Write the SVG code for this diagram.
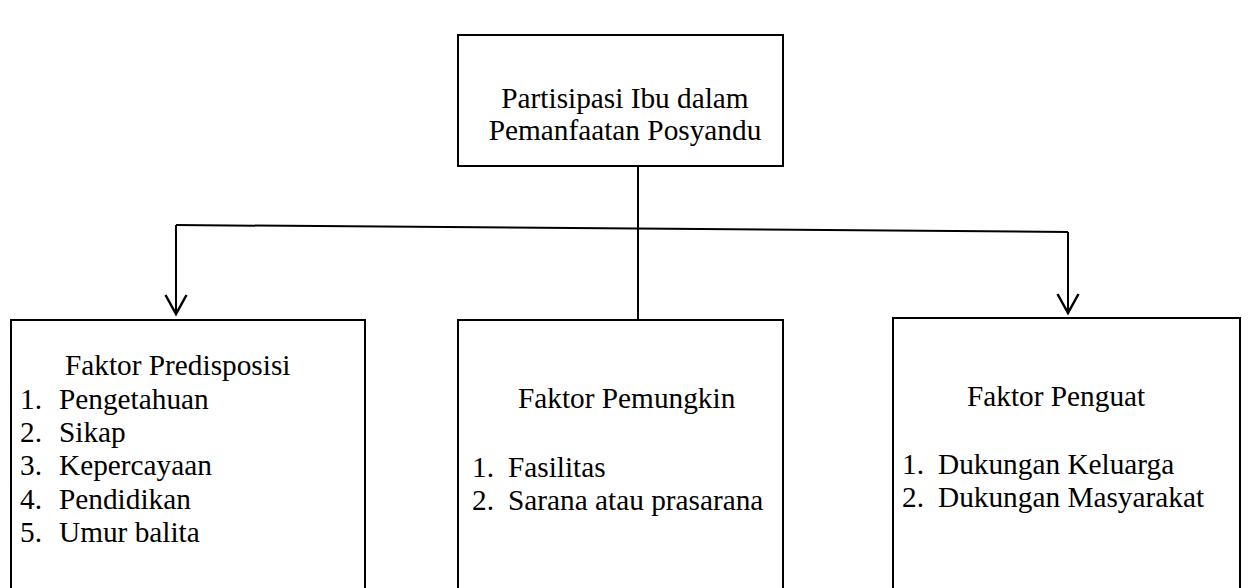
<svg xmlns="http://www.w3.org/2000/svg" width="1250" height="588" viewBox="0 0 1250 588">
<style>
.box{fill:#fff;stroke:#000;stroke-width:2}
.ln{fill:none;stroke:#000;stroke-width:2}
text{font-family:"Liberation Serif","Times New Roman",serif;font-size:29.3px;fill:#000}
.c{text-anchor:middle}
</style>
<defs>
<marker id="arr" markerUnits="userSpaceOnUse" markerWidth="30" markerHeight="30" refX="0" refY="0" orient="auto" overflow="visible">
<path d="M-19,-10.5 L0,0 L-19,10.5" fill="none" stroke="#000" stroke-width="2.5"/>
</marker>
</defs>
<rect width="1250" height="588" fill="#fff"/>
<g id="connectors">
<path class="ln" d="M638,166 L638,320"/>
<path class="ln" d="M176,225 L1068,232"/>
<path class="ln" d="M176,225 L176,314" marker-end="url(#arr)"/>
<path class="ln" d="M1068,232 L1068,313" marker-end="url(#arr)"/>
</g>
<g id="top">
<rect class="box" x="458" y="35" width="325" height="131"/>
<text class="c" x="625" y="108">Partisipasi Ibu dalam</text>
<text class="c" x="625" y="140">Pemanfaatan Posyandu</text>
</g>
<g id="predisposisi">
<rect class="box" x="11" y="320" width="354" height="290"/>
<text x="65" y="375">Faktor Predisposisi</text>
<text x="20" y="409">1.</text><text x="59" y="409">Pengetahuan</text>
<text x="20" y="442">2.</text><text x="59" y="442">Sikap</text>
<text x="20" y="475">3.</text><text x="59" y="475">Kepercayaan</text>
<text x="20" y="509">4.</text><text x="59" y="509">Pendidikan</text>
<text x="20" y="542">5.</text><text x="59" y="542">Umur balita</text>
</g>
<g id="pemungkin">
<rect class="box" x="458" y="320" width="325" height="290"/>
<text x="518" y="408">Faktor Pemungkin</text>
<text x="472" y="477">1.</text><text x="508" y="477">Fasilitas</text>
<text x="472" y="510">2.</text><text x="508" y="510">Sarana atau prasarana</text>
</g>
<g id="penguat">
<rect class="box" x="893" y="318" width="347" height="290"/>
<text x="967" y="406">Faktor Penguat</text>
<text x="902" y="474">1.</text><text x="938" y="474">Dukungan Keluarga</text>
<text x="902" y="507">2.</text><text x="938" y="507">Dukungan Masyarakat</text>
</g>
</svg>
